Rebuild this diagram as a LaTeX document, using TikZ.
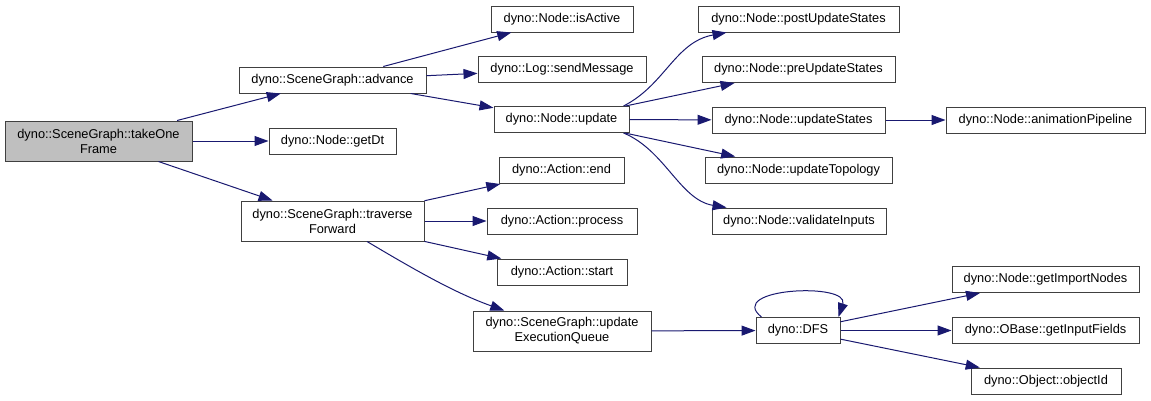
\documentclass[tikz,border=0pt]{standalone}
\usepackage{fontspec}
\setmainfont{Liberation Sans}
\usepackage{xcolor}
\usepackage{tikz}
\usetikzlibrary{arrows.meta}

\definecolor{callblue}{HTML}{191970}
\definecolor{boxgray}{HTML}{404040}
\definecolor{rootfill}{HTML}{BFBFBF}
\newdimen\pxu \pxu=0.75pt

\begin{document}
\begin{tikzpicture}[x=0.75pt, y=-0.75pt,
    fn/.style={draw=boxgray, line width=\pxu, fill=white, inner sep=0pt,
        minimum height=26\pxu, align=center,
        font=\fontsize{9.6}{11.25}\selectfont},
    fntwo/.style={fn, minimum height=40\pxu},
    call/.style={draw=callblue, line width=\pxu,
        -{Triangle[length=10.5pt,width=7.5pt]}}]
    \useasboundingbox (0,0) rectangle (1151,400);

    % Root
    \node[fntwo, fill=rootfill, minimum width=187\pxu] (frame) at (98.5,141) {dyno::SceneGraph::takeOne\\Frame};

    % Second column
    \node[fn, minimum width=187\pxu] (advance) at (332.5,80) {dyno::SceneGraph::advance};
    \node[fn, minimum width=127\pxu] (getdt) at (332.5,141) {dyno::Node::getDt};
    \node[fntwo, minimum width=183\pxu] (traverse) at (332.5,221) {dyno::SceneGraph::traverse\\Forward};

    % Third column
    \node[fn, minimum width=142\pxu] (isactive) at (562,19) {dyno::Node::isActive};
    \node[fn, minimum width=168\pxu] (sendmsg) at (562,69.5) {dyno::Log::sendMessage};
    \node[fn, minimum width=135\pxu] (update) at (561.5,119.5) {dyno::Node::update};
    \node[fn, minimum width=125\pxu] (actend) at (561.5,170.5) {dyno::Action::end};
    \node[fn, minimum width=150\pxu] (actproc) at (562,221) {dyno::Action::process};
    \node[fn, minimum width=130\pxu] (actstart) at (562,272) {dyno::Action::start};
    \node[fntwo, minimum width=178\pxu] (updqueue) at (562,331) {dyno::SceneGraph::update\\ExecutionQueue};

    % Fourth column
    \node[fn, minimum width=201\pxu] (postupd) at (798.5,19) {dyno::Node::postUpdateStates};
    \node[fn, minimum width=193\pxu] (preupd) at (798.5,69.5) {dyno::Node::preUpdateStates};
    \node[fn, minimum width=173\pxu] (updstates) at (798.5,120) {dyno::Node::updateStates};
    \node[fn, minimum width=187\pxu] (updtopo) at (798.5,170) {dyno::Node::updateTopology};
    \node[fn, minimum width=174\pxu] (validate) at (799,221) {dyno::Node::validateInputs};
    \node[fn, minimum width=84\pxu] (dfs) at (798,330.5) {dyno::DFS};

    % Last column
    \node[fn, minimum width=199\pxu] (animpipe) at (1045.5,120) {dyno::Node::animationPipeline};
    \node[fn, minimum width=187\pxu] (importnodes) at (1045.5,279.5) {dyno::Node::getImportNodes};
    \node[fn, minimum width=187\pxu] (inputfields) at (1045.5,330.5) {dyno::OBase::getInputFields};
    \node[fn, minimum width=150\pxu] (objectid) at (1046,381) {dyno::Object::objectId};

    % Calls
    \draw[call] (frame) -- (advance);
    \draw[call] (frame) -- (getdt);
    \draw[call] (frame) -- (traverse);

    \draw[call] (advance) -- (isactive);
    \draw[call] (advance) -- (sendmsg);
    \draw[call] (advance) -- (update);

    \draw[call] ([xshift=-4.5pt]update.north east) .. controls (665,85) and (675,42) .. ([xshift=21.75pt]postupd.south west);
    \draw[call] (update) -- (preupd);
    \draw[call] (update) -- (updstates);
    \draw[call] (update) -- (updtopo);
    \draw[call] ([xshift=-4.5pt]update.south east) .. controls (665,150) and (680,200) .. ([xshift=11.25pt]validate.north west);
    \draw[call] (updstates) -- (animpipe);

    \draw[call] (traverse) -- (actend);
    \draw[call] (traverse) -- (actproc);
    \draw[call] (traverse) -- (actstart);
    \draw[call] (traverse) .. controls (415,270) and (455,293) .. (updqueue);

    \draw[call] (updqueue) -- (dfs);
    % DFS calls itself
    \draw[call] ([xshift=4.5pt]dfs.north west) .. controls (725,288) and (850,282) .. ([xshift=-1.5pt]dfs.north east);
    \draw[call] (dfs) -- (importnodes);
    \draw[call] (dfs) -- (inputfields);
    \draw[call] (dfs) -- (objectid);
\end{tikzpicture}
\end{document}
